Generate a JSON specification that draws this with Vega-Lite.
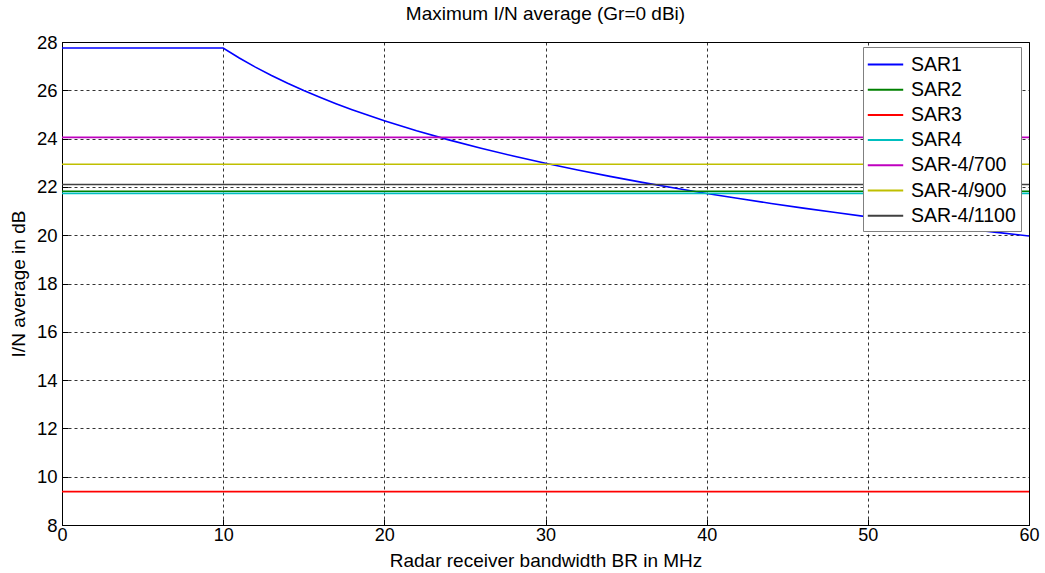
{
  "$schema": "https://vega.github.io/schema/vega-lite/v6.json",
  "autosize": "none",
  "width": 967,
  "height": 483,
  "padding": {"left": 62, "top": 42, "right": 16, "bottom": 48},
  "background": "white",
  "config": {
    "font": "Liberation Sans",
    "view": {"stroke": "#000000", "strokeWidth": 1}
  },
  "title": {"text": "Maximum I/N average (Gr=0 dBi)", "fontSize": 19, "fontWeight": "normal", "color": "#000000", "offset": 9, "font": "Liberation Sans"},
  "data": {"values": [
    {"s": "SAR1", "x": 0, "y": 27.75},
    {"s": "SAR1", "x": 10, "y": 27.75},
    {"s": "SAR1", "x": 11, "y": 27.336},
    {"s": "SAR1", "x": 12, "y": 26.958},
    {"s": "SAR1", "x": 13, "y": 26.611},
    {"s": "SAR1", "x": 14, "y": 26.289},
    {"s": "SAR1", "x": 15, "y": 25.989},
    {"s": "SAR1", "x": 16, "y": 25.709},
    {"s": "SAR1", "x": 17, "y": 25.446},
    {"s": "SAR1", "x": 18, "y": 25.197},
    {"s": "SAR1", "x": 19, "y": 24.962},
    {"s": "SAR1", "x": 20, "y": 24.740},
    {"s": "SAR1", "x": 22, "y": 24.326},
    {"s": "SAR1", "x": 24, "y": 23.948},
    {"s": "SAR1", "x": 26, "y": 23.600},
    {"s": "SAR1", "x": 28, "y": 23.278},
    {"s": "SAR1", "x": 30, "y": 22.979},
    {"s": "SAR1", "x": 32, "y": 22.698},
    {"s": "SAR1", "x": 34, "y": 22.435},
    {"s": "SAR1", "x": 36, "y": 22.187},
    {"s": "SAR1", "x": 38, "y": 21.952},
    {"s": "SAR1", "x": 40, "y": 21.729},
    {"s": "SAR1", "x": 42, "y": 21.517},
    {"s": "SAR1", "x": 44, "y": 21.315},
    {"s": "SAR1", "x": 46, "y": 21.122},
    {"s": "SAR1", "x": 48, "y": 20.938},
    {"s": "SAR1", "x": 50, "y": 20.760},
    {"s": "SAR1", "x": 52, "y": 20.590},
    {"s": "SAR1", "x": 54, "y": 20.426},
    {"s": "SAR1", "x": 56, "y": 20.268},
    {"s": "SAR1", "x": 58, "y": 20.116},
    {"s": "SAR1", "x": 60, "y": 19.968},
    {"s": "SAR2", "x": 0, "y": 21.82},
    {"s": "SAR2", "x": 60, "y": 21.82},
    {"s": "SAR3", "x": 0, "y": 9.38},
    {"s": "SAR3", "x": 60, "y": 9.38},
    {"s": "SAR4", "x": 0, "y": 21.73},
    {"s": "SAR4", "x": 60, "y": 21.73},
    {"s": "SAR-4/700", "x": 0, "y": 24.05},
    {"s": "SAR-4/700", "x": 60, "y": 24.05},
    {"s": "SAR-4/900", "x": 0, "y": 22.94},
    {"s": "SAR-4/900", "x": 60, "y": 22.94},
    {"s": "SAR-4/1100", "x": 0, "y": 22.1},
    {"s": "SAR-4/1100", "x": 60, "y": 22.1}
  ]},
  "mark": {"type": "line", "strokeWidth": 1.6, "clip": true},
  "encoding": {
    "x": {
      "field": "x", "type": "quantitative",
      "scale": {"domain": [0, 60], "nice": false, "zero": false},
      "axis": {
        "title": "Radar receiver bandwidth BR in MHz",
        "values": [0, 10, 20, 30, 40, 50, 60],
        "labelFlush": false,
        "grid": true, "gridDash": [3, 3], "gridColor": "#000000", "gridOpacity": 0.8, "gridWidth": 1,
        "domainColor": "#000000", "tickColor": "#000000", "tickSize": -6,
        "labelFontSize": 18, "labelColor": "#000000", "labelPadding": 7, "labelFont": "Liberation Sans",
        "titleFontSize": 19, "titleFontWeight": "normal", "titleColor": "#000000", "titlePadding": 7, "titleFont": "Liberation Sans"
      }
    },
    "y": {
      "field": "y", "type": "quantitative",
      "scale": {"domain": [8, 28], "nice": false, "zero": false},
      "axis": {
        "title": "I/N average in dB",
        "values": [8, 10, 12, 14, 16, 18, 20, 22, 24, 26, 28],
        "labelFlush": false,
        "grid": true, "gridDash": [3, 3], "gridColor": "#000000", "gridOpacity": 0.8, "gridWidth": 1,
        "domainColor": "#000000", "tickColor": "#000000", "tickSize": -6,
        "labelFontSize": 18.5, "labelColor": "#000000", "labelPadding": 11, "labelFont": "Liberation Sans",
        "titleFontSize": 19, "titleFontWeight": "normal", "titleColor": "#000000", "titlePadding": 8, "titleFont": "Liberation Sans"
      }
    },
    "color": {
      "field": "s", "type": "nominal",
      "scale": {
        "domain": ["SAR1", "SAR2", "SAR3", "SAR4", "SAR-4/700", "SAR-4/900", "SAR-4/1100"],
        "range": ["#0000ff", "#008000", "#ff0000", "#00bfbf", "#bf00bf", "#bfbf00", "#404040"]
      },
      "legend": {
        "title": null, "orient": "none", "legendX": 801, "legendY": 5,
        "symbolType": "M-1.54,0H1.54", "symbolSize": 529, "symbolStrokeWidth": 2, "symbolOffset": 5,
        "labelFontSize": 19.5, "labelColor": "#000000", "labelFont": "Liberation Sans", "labelOffset": 13,
        "rowPadding": 3.2, "padding": 5,
        "strokeColor": "#808080", "fillColor": "#ffffff",
        "labelLimit": 200
      }
    },
    "order": {"field": "x", "type": "quantitative"}
  }
}
